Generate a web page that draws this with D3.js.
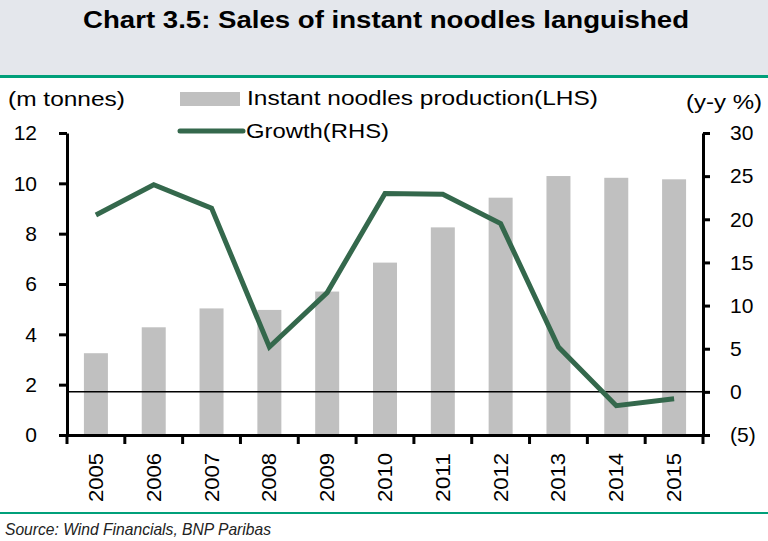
<!DOCTYPE html>
<html>
<head>
<meta charset="utf-8">
<script src="https://cdn.jsdelivr.net/npm/d3@7"></script>
<style>
  body { margin: 0; background: #fff; }
  svg { display: block; font-family: "Liberation Sans", Arial, sans-serif; }
</style>
</head>
<body>
<svg id="chart" width="768" height="541"></svg>
<script>
const years = ["2005", "2006", "2007", "2008", "2009", "2010", "2011", "2012", "2013", "2014", "2015"];
const production = [3.25, 4.28, 5.03, 4.97, 5.7, 6.85, 8.25, 9.43, 10.29, 10.22, 10.16];
const growth = [20.5, 24.0, 21.3, 5.2, 11.5, 23.0, 22.9, 19.5, 5.2, -1.6, -0.8];
const leftTicks = [0, 2, 4, 6, 8, 10, 12];
const rightTicks = [-5, 0, 5, 10, 15, 20, 25, 30];

const svg = d3.select("#chart");

// header band
svg.append("rect").attr("x", 0).attr("y", 0).attr("width", 768).attr("height", 75).attr("fill", "#e4e7ec");
svg.append("rect").attr("x", 0).attr("y", 75).attr("width", 768).attr("height", 3).attr("fill", "#00a07a");
svg.append("text")
  .attr("x", 386).attr("y", 28)
  .attr("text-anchor", "middle")
  .attr("font-weight", "bold")
  .attr("font-size", 23)
  .attr("textLength", 606).attr("lengthAdjust", "spacingAndGlyphs")
  .text("Chart 3.5: Sales of instant noodles languished");

// bottom rule + source
svg.append("rect").attr("x", 0).attr("y", 512).attr("width", 768).attr("height", 2).attr("fill", "#00a07a");
svg.append("text")
  .attr("x", 5).attr("y", 535)
  .attr("font-style", "italic")
  .attr("font-size", 17)
  .attr("textLength", 266).attr("lengthAdjust", "spacingAndGlyphs")
  .attr("fill", "#222")
  .text("Source: Wind Financials, BNP Paribas");

const plotL = 67, plotR = 703, plotT = 133, plotB = 435;

const x = d3.scaleBand().domain(years).range([plotL, plotR]).paddingInner(0.585).paddingOuter(0.2925);
const xTicks = d3.scaleBand().domain(years).range([plotL, plotR]);
const yL = d3.scaleLinear().domain([0, 12]).range([plotB, plotT]);
const yR = d3.scaleLinear().domain([-5, 30]).range([plotB, plotT]);

// bars
svg.append("g").selectAll("rect")
  .data(years)
  .join("rect")
  .attr("x", (d) => x(d))
  .attr("width", x.bandwidth())
  .attr("y", (d, i) => yL(production[i]))
  .attr("height", (d, i) => yL(0) - yL(production[i]))
  .attr("fill", "#c0c0c0");

// zero line of RHS
svg.append("line")
  .attr("x1", plotL).attr("x2", plotR)
  .attr("y1", yR(0)).attr("y2", yR(0))
  .attr("stroke", "#000").attr("stroke-width", 1.5);

// growth line
const line = d3.line()
  .x((d, i) => xTicks(years[i]) + xTicks.bandwidth() / 2)
  .y((d) => yR(d));
svg.append("path")
  .datum(growth)
  .attr("d", line)
  .attr("fill", "none")
  .attr("stroke", "#34684c")
  .attr("stroke-width", 5)
  .attr("stroke-linejoin", "miter");

// axes
const axisL = svg.append("g")
  .attr("transform", `translate(${plotL},0)`)
  .call(d3.axisLeft(yL).tickValues(leftTicks).tickSize(8).tickSizeOuter(0).tickPadding(22));
const axisR = svg.append("g")
  .attr("transform", `translate(${plotR},0)`)
  .call(d3.axisRight(yR).tickValues(rightTicks).tickSize(7).tickSizeOuter(0).tickPadding(20)
    .tickFormat((d) => d < 0 ? `(${-d})` : d));

const xAxis = svg.append("g")
  .attr("transform", `translate(0,${plotB})`)
  .call(d3.axisBottom(xTicks).tickSize(0).tickFormat(""));
// x ticks at category boundaries
svg.append("g").selectAll("line")
  .data(years.concat(["end"]))
  .join("line")
  .attr("x1", (d, i) => plotL + i * xTicks.step())
  .attr("x2", (d, i) => plotL + i * xTicks.step())
  .attr("y1", plotB).attr("y2", plotB + 9)
  .attr("stroke", "#000").attr("stroke-width", 3);

[axisL, axisR, xAxis].forEach((g) => {
  g.selectAll(".domain").attr("stroke", "#000").attr("stroke-width", 3);
  g.selectAll(".tick line").attr("stroke", "#000").attr("stroke-width", 3);
  g.selectAll(".tick text").attr("font-size", 21).attr("fill", "#000").attr("font-family", "Liberation Sans, Arial, sans-serif");
});

// year labels, rotated
svg.append("g").selectAll("text")
  .data(years)
  .join("text")
  .attr("transform", (d) => `translate(${xTicks(d) + xTicks.bandwidth() / 2 + 7},502) rotate(-90)`)
  .attr("font-size", 21)
  .attr("textLength", 49).attr("lengthAdjust", "spacingAndGlyphs")
  .text((d) => d);

// axis unit labels
svg.append("text").attr("x", 8).attr("y", 106).attr("font-size", 20)
  .attr("textLength", 117).attr("lengthAdjust", "spacingAndGlyphs").text("(m tonnes)");
svg.append("text").attr("x", 686).attr("y", 109).attr("font-size", 20)
  .attr("textLength", 76).attr("lengthAdjust", "spacingAndGlyphs").text("(y-y %)");

// legend
svg.append("rect").attr("x", 180).attr("y", 92).attr("width", 60).attr("height", 14).attr("fill", "#c0c0c0");
svg.append("text").attr("x", 247).attr("y", 105).attr("font-size", 20)
  .attr("textLength", 351).attr("lengthAdjust", "spacingAndGlyphs").text("Instant noodles production(LHS)");
svg.append("line").attr("x1", 180).attr("x2", 243).attr("y1", 131).attr("y2", 131)
  .attr("stroke", "#34684c").attr("stroke-width", 5).attr("stroke-linecap", "round");
svg.append("text").attr("x", 246).attr("y", 138).attr("font-size", 20)
  .attr("textLength", 143).attr("lengthAdjust", "spacingAndGlyphs").text("Growth(RHS)");
</script>
</body>
</html>
